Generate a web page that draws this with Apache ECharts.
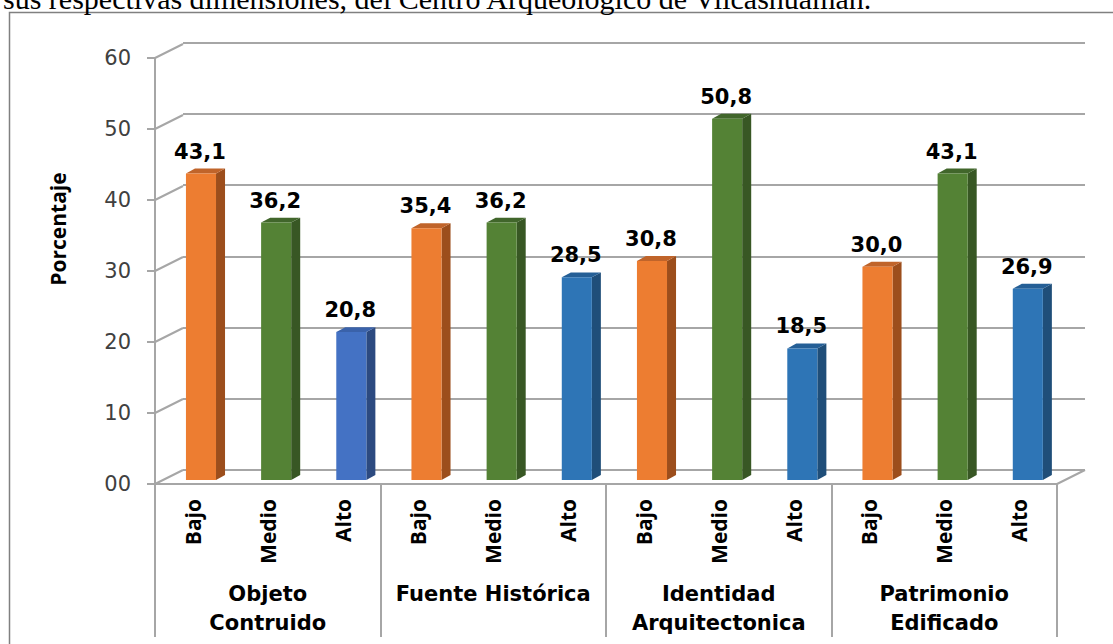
<!DOCTYPE html>
<html><head><meta charset="utf-8">
<script src="https://cdn.jsdelivr.net/npm/echarts@6/dist/echarts.min.js"></script>
<style>html,body{margin:0;padding:0;background:#fff}#c{width:1113px;height:644px}</style>
</head><body><div id="c"></div>
<script>
// ---- data ----
const groups = ['Objeto\nContruido', 'Fuente Histórica', 'Identidad\nArquitectonica', 'Patrimonio\nEdificado'];
const levels = ['Bajo', 'Medio', 'Alto'];
const bajo  = [43.1, 35.4, 30.8, 30.0];
const medio = [36.2, 36.2, 50.8, 43.1];
const alto  = [20.8, 28.5, 18.5, 26.9];
const yTicks = [0, 10, 20, 30, 40, 50, 60];
const caption = 'sus respectivas dimensiones, del Centro Arqueológico de Vilcashuamán.';
const yName = 'Porcentaje';

// ---- styles ----
const faces = [
  { front: '#ED7D31', side: '#9C4E1C', top: '#C0642A' },
  { front: '#548235', side: '#385724', top: '#41662B' },
  { front: '#2E75B6', side: '#1F4E79', top: '#255F96' }
];
const altoFirst = { front: '#4472C4', side: '#2C4A80', top: '#3A62AA' };
const gridGray = '#a6a6a6';

const cats = [];
const barData = [];
const seriesVals = [bajo, medio, alto];
groups.forEach((g, gi) => {
  levels.forEach((l, li) => {
    cats.push(l);
    barData.push([cats.length - 1, seriesVals[li][gi], li, gi]);
  });
});

function fmt(v) { return v.toFixed(1).replace('.', ','); }

function renderBar(params, api) {
  const idx = api.value(0), v = api.value(1), li = api.value(2), gi = api.value(3);
  const top = api.coord([idx, v]);
  const base = api.coord([idx, 0]);
  const band = api.size([1, 0])[0];
  const w = band * 0.4, dx = band * 0.12, dy = -band * 0.066;
  const L = top[0] - w / 2, R = top[0] + w / 2, yT = top[1], yB = base[1];
  const f = (li === 2 && gi === 0) ? altoFirst : faces[li];
  return {
    type: 'group',
    children: [
      { type: 'polygon', shape: { points: [[R, yB], [R + dx, yB + dy], [R + dx, yT + dy], [R, yT]] }, style: { fill: f.side } },
      { type: 'polygon', shape: { points: [[L, yT], [L + dx, yT + dy], [R + dx, yT + dy], [R, yT]] }, style: { fill: f.top } },
      { type: 'rect', shape: { x: L, y: yT, width: w, height: yB - yT }, style: { fill: f.front } },
      { type: 'text', style: { x: top[0] - 1, y: yT - 22, text: fmt(v), align: 'center', verticalAlign: 'middle',
          fontFamily: 'DejaVu Sans', fontWeight: 'bold', fontSize: 21, fill: '#000' } }
    ]
  };
}

function renderDiag(params, api) {
  const cs = params.coordSys;
  const v = api.value(1);
  const y = api.coord([0, v])[1];
  const els = [{ type: 'line', shape: { x1: cs.x, y1: y, x2: cs.x + 28, y2: y - 14 }, style: { stroke: gridGray, lineWidth: 2 } }];
  if (v === 0) {
    els.push({ type: 'line', shape: { x1: cs.x + cs.width, y1: y, x2: cs.x + cs.width + 28, y2: y - 14 }, style: { stroke: gridGray, lineWidth: 2 } });
  }
  return { type: 'group', children: els };
}

const chart = echarts.init(document.getElementById('c'), null, { renderer: 'svg' });
chart.setOption({
  backgroundColor: '#fff',
  animation: false,
  grid: [
    { left: 183, top: 42.7, width: 902, height: 427.3 },   // back wall
    { left: 155, top: 58, width: 902, height: 426 },       // front axes
    { left: 163.4, top: 53.4, width: 902, height: 426.6 }, // bars
    { left: 155, top: 58, width: 902, height: 426 }        // group axis
  ],
  xAxis: [
    { gridIndex: 0, type: 'value', min: 0, max: 1, show: false },
    { gridIndex: 1, type: 'category', data: cats,
      axisLine: { show: true, lineStyle: { color: gridGray, width: 2 } },
      axisTick: { show: false },
      axisLabel: { interval: 0, rotate: 90, margin: 15, color: '#000', fontFamily: 'Open Sans', fontSize: 21, fontWeight: 'bold' } },
    { gridIndex: 2, type: 'category', data: cats, show: false },
    { gridIndex: 3, type: 'category', data: groups, position: 'bottom',
      axisLine: { show: false },
      axisTick: { show: true, interval: 0, length: 153, lineStyle: { color: gridGray, width: 2 } },
      axisLabel: { interval: 0, margin: 95, color: '#000', fontFamily: 'DejaVu Sans', fontWeight: 'bold', fontSize: 21, lineHeight: 29, align: 'center' } }
  ],
  yAxis: [
    { gridIndex: 0, type: 'value', min: 0, max: 60, interval: 10,
      axisLine: { show: false }, axisTick: { show: false }, axisLabel: { show: false },
      splitLine: { show: true, lineStyle: { color: gridGray, width: 2 } } },
    { gridIndex: 1, type: 'value', min: 0, max: 60, interval: 10,
      axisLine: { show: true, lineStyle: { color: gridGray, width: 2 } },
      axisTick: { show: true, length: 8, lineStyle: { color: gridGray, width: 2 } },
      axisLabel: { margin: 24, color: '#404040', fontFamily: 'DejaVu Sans', fontSize: 21,
        formatter: v => (v === 0 ? '00' : String(v)) },
      splitLine: { show: false } },
    { gridIndex: 2, type: 'value', min: 0, max: 60, show: false },
    { gridIndex: 3, type: 'value', min: 0, max: 60, show: false, splitLine: { show: false } }
  ],
  series: [
    { type: 'custom', xAxisIndex: 1, yAxisIndex: 1, z: 2, silent: true,
      data: yTicks.map(v => [0, v]), renderItem: renderDiag },
    { type: 'custom', xAxisIndex: 2, yAxisIndex: 2, z: 5, silent: true,
      data: barData, renderItem: renderBar }
  ],
  graphic: [
    { type: 'polyline', shape: { points: [[9.5, 644], [9.5, 12.5], [1113, 12.5]] }, style: { stroke: '#808080', lineWidth: 1.5, fill: null } },
    { type: 'text', x: 3, y: -1.5, style: { text: caption, fontFamily: 'Liberation Serif', fontSize: 30, fill: '#000', verticalAlign: 'middle', align: 'left' } },
    { type: 'text', x: 58, y: 229, rotation: Math.PI / 2, style: { text: yName, fontFamily: 'Open Sans', fontWeight: 'bold', fontSize: 21, fill: '#000', align: 'center', verticalAlign: 'middle' } }
  ]
});
</script>
</body></html>
